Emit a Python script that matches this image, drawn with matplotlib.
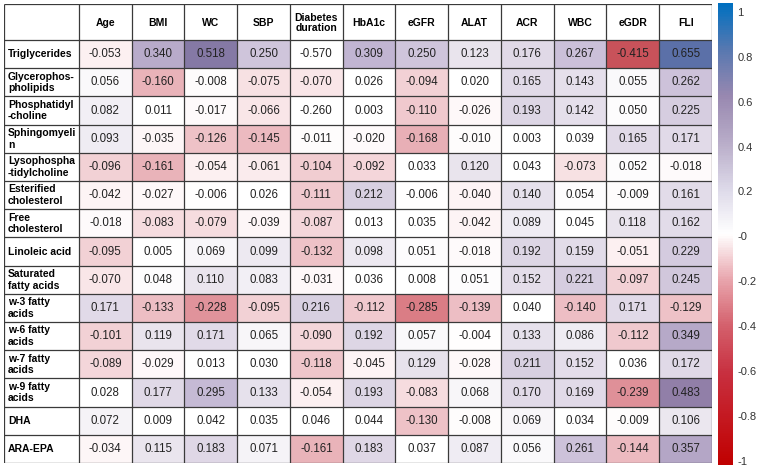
import matplotlib.pyplot as plt
import numpy as np
from matplotlib.colors import LinearSegmentedColormap, Normalize
from matplotlib.cm import ScalarMappable

plt.rcParams['font.family'] = ['Liberation Sans', 'DejaVu Sans']

columns = ["Age", "BMI", "WC", "SBP", "Diabetes\nduration", "HbA1c", "eGFR",
           "ALAT", "ACR", "WBC", "eGDR", "FLI"]
rows = ["Triglycerides", "Glycerophos-\npholipids", "Phosphatidyl\n-choline",
        "Sphingomyeli\nn", "Lysophospha\n-tidylcholine", "Esterified\ncholesterol",
        "Free\ncholesterol", "Linoleic acid", "Saturated\nfatty acids",
        "w-3 fatty\nacids", "w-6 fatty\nacids", "w-7 fatty\nacids",
        "w-9 fatty\nacids", "DHA", "ARA-EPA"]

triglycerides = [-0.053, 0.340, 0.518, 0.250, -0.570, 0.309, 0.250, 0.123, 0.176, 0.267, -0.415, 0.655]
glycerophospholipids = [0.056, -0.160, -0.008, -0.075, -0.070, 0.026, -0.094, 0.020, 0.165, 0.143, 0.055, 0.262]
phosphatidylcholine = [0.082, 0.011, -0.017, -0.066, -0.260, 0.003, -0.110, -0.026, 0.193, 0.142, 0.050, 0.225]
sphingomyelin = [0.093, -0.035, -0.126, -0.145, -0.011, -0.020, -0.168, -0.010, 0.003, 0.039, 0.165, 0.171]
lysophosphatidylcholine = [-0.096, -0.161, -0.054, -0.061, -0.104, -0.092, 0.033, 0.120, 0.043, -0.073, 0.052, -0.018]
esterified_chol = [-0.042, -0.027, -0.006, 0.026, -0.111, 0.212, -0.006, -0.040, 0.140, 0.054, -0.009, 0.161]
free_chol = [-0.018, -0.083, -0.079, -0.039, -0.087, 0.013, 0.035, -0.042, 0.089, 0.045, 0.118, 0.162]
linoleic = [-0.095, 0.005, 0.069, 0.099, -0.132, 0.098, 0.051, -0.018, 0.192, 0.159, -0.051, 0.229]
saturated = [-0.070, 0.048, 0.110, 0.083, -0.031, 0.036, 0.008, 0.051, 0.152, 0.221, -0.097, 0.245]
w3 = [0.171, -0.133, -0.228, -0.095, 0.216, -0.112, -0.285, -0.139, 0.040, -0.140, 0.171, -0.129]
w6 = [-0.101, 0.119, 0.171, 0.065, -0.090, 0.192, 0.057, -0.004, 0.133, 0.086, -0.112, 0.349]
w7 = [-0.089, -0.029, 0.013, 0.030, -0.118, -0.045, 0.129, -0.028, 0.211, 0.152, 0.036, 0.172]
w9 = [0.028, 0.177, 0.295, 0.133, -0.054, 0.193, -0.083, 0.068, 0.170, 0.169, -0.239, 0.483]
dha = [0.072, 0.009, 0.042, 0.035, 0.046, 0.044, -0.130, -0.008, 0.069, 0.034, -0.009, 0.106]
ara_epa = [-0.034, 0.115, 0.183, 0.071, -0.161, 0.183, 0.037, 0.087, 0.056, 0.261, -0.144, 0.357]

values = np.array([triglycerides, glycerophospholipids, phosphatidylcholine, sphingomyelin,
                   lysophosphatidylcholine, esterified_chol, free_chol, linoleic, saturated,
                   w3, w6, w7, w9, dha, ara_epa])

# the original leaves these two cells unshaded
shade = values.copy()
shade[0, 4] = 0
shade[2, 4] = 0

# cell colour scale
cell_stops = [(-1, '#b00010'), (-0.45, '#c44850'), (-0.3, '#d87880'), (-0.2, '#e4a0a8'),
              (-0.1, '#f2d0d4'), (-0.045, '#fdf4f5'), (0, '#ffffff'), (0.045, '#ffffff'),
              (0.1, '#ece8f0'), (0.2, '#dcd4e4'), (0.3, '#c4b8d4'), (0.5, '#8c7aa4'),
              (0.65, '#5c70a8'), (1, '#0070c0')]
cell_cmap = LinearSegmentedColormap.from_list(
    'cells', [((v + 1) / 2, c) for v, c in cell_stops])

bar_stops = [(-1, '#c00000'), (-0.6, '#c83040'), (-0.4, '#d4606c'), (-0.2, '#e8a4ac'),
             (0, '#ffffff'), (0.2, '#dcd8e8'), (0.4, '#b8acc8'), (0.6, '#9888b0'),
             (0.8, '#5878b0'), (1, '#0070c0')]
bar_cmap = LinearSegmentedColormap.from_list(
    'bar', [((v + 1) / 2, c) for v, c in bar_stops])

W, H = 758, 468
fig = plt.figure(figsize=(W / 100, H / 100), dpi=100)

label_w = 75
col_w = 52.75
head_h = 36
row_h = 28.2
xedges = np.concatenate([[0], label_w + col_w * np.arange(len(columns) + 1)])
yedges = np.concatenate([[0], head_h + row_h * np.arange(len(rows) + 1)])

left, top = 4, 4
ax = fig.add_axes([left / W, (H - top - yedges[-1]) / H, xedges[-1] / W, yedges[-1] / H])
ax.set_xlim(0, xedges[-1])
ax.set_ylim(yedges[-1], 0)
ax.axis('off')

ax.pcolormesh(xedges[1:], yedges[1:], shade, cmap=cell_cmap, vmin=-1, vmax=1)
ax.vlines(xedges, 0, yedges[-1], color='#3a3a3a', lw=0.9)
ax.hlines(yedges, 0, xedges[-1], color='#3a3a3a', lw=0.9)

xc = (xedges[1:-1] + xedges[2:]) / 2
yc = (yedges[1:-1] + yedges[2:]) / 2
for j, name in enumerate(columns):
    ax.text(xc[j], head_h / 2 + 1, name, ha='center', va='center', fontsize=7.5,
            fontweight='bold', linespacing=1.05)
for i, name in enumerate(rows):
    ax.text(4, yc[i], name, ha='left', va='center', fontsize=7.5,
            fontweight='bold', linespacing=1.2)
    for j in range(len(columns)):
        ax.text(xc[j], yc[i], f"{values[i, j]:.3f}", ha='center', va='center',
                fontsize=8.3, color='#222222')

# colour bar
cax = fig.add_axes([718 / W, 3 / H, 15 / W, 462 / H])
cb = fig.colorbar(ScalarMappable(norm=Normalize(-1.02, 1.04), cmap=bar_cmap), cax=cax)
cb.outline.set_visible(False)
ticks = np.round(np.arange(-1, 1.01, 0.2), 1)
cb.set_ticks(ticks)
cb.set_ticklabels([f"{t:g}" for t in ticks])
cax.tick_params(length=0, labelsize=8, pad=3, colors='#333333')

fig.savefig('out.png', dpi=100)
